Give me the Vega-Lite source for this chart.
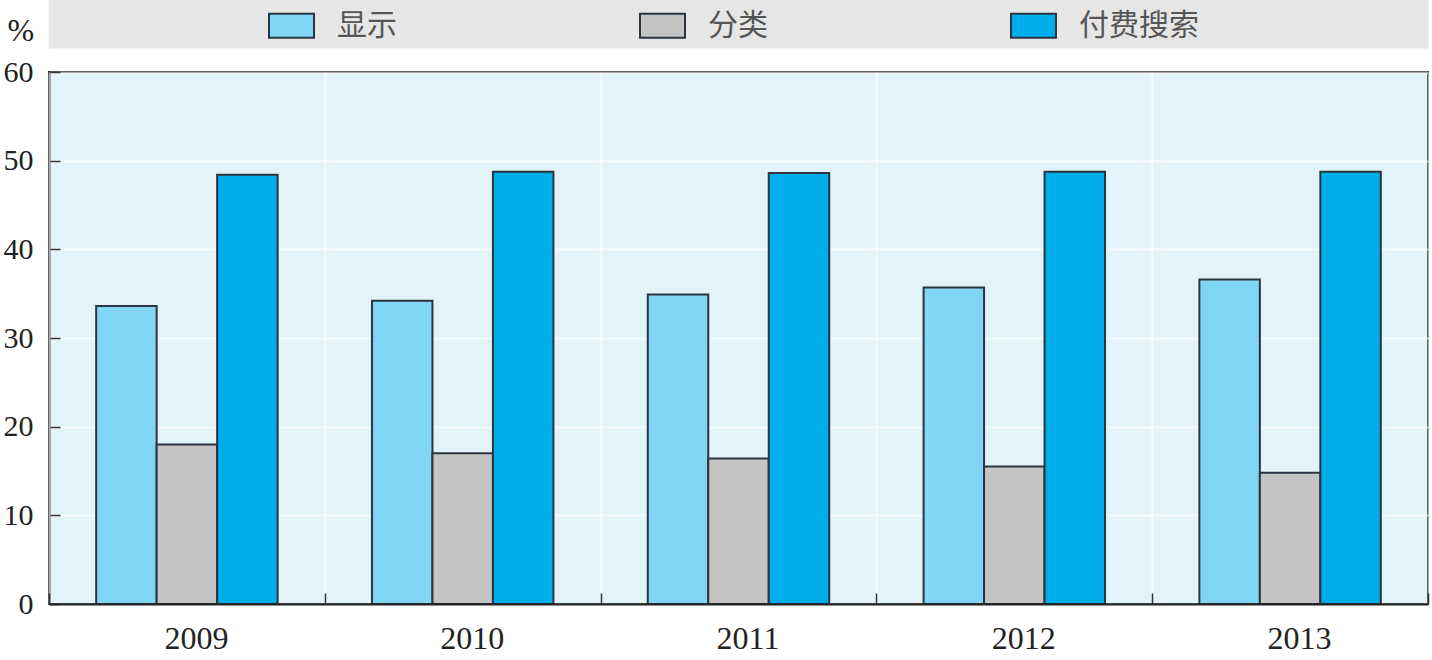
{
  "$schema": "https://vega.github.io/schema/vega-lite/v6.json",
  "width": 1379,
  "height": 532,
  "autosize": "none",
  "padding": {"left": 49, "top": 72, "right": 4, "bottom": 56},
  "background": "white",
  "config": {
    "view": {"fill": "#e2f4f9", "stroke": "#222222", "strokeWidth": 2},
    "font": "Liberation Serif"
  },
  "data": {
    "values": [
      {"year": "2009", "series": "显示", "value": 33.6},
      {"year": "2009", "series": "分类", "value": 18.0},
      {"year": "2009", "series": "付费搜索", "value": 48.4},
      {"year": "2010", "series": "显示", "value": 34.2},
      {"year": "2010", "series": "分类", "value": 17.0},
      {"year": "2010", "series": "付费搜索", "value": 48.75},
      {"year": "2011", "series": "显示", "value": 34.9},
      {"year": "2011", "series": "分类", "value": 16.4},
      {"year": "2011", "series": "付费搜索", "value": 48.6},
      {"year": "2012", "series": "显示", "value": 35.7},
      {"year": "2012", "series": "分类", "value": 15.5},
      {"year": "2012", "series": "付费搜索", "value": 48.75},
      {"year": "2013", "series": "显示", "value": 36.6},
      {"year": "2013", "series": "分类", "value": 14.8},
      {"year": "2013", "series": "付费搜索", "value": 48.75}
    ]
  },
  "layer": [
    {
      "transform": [{"filter": "datum.series === '显示'"}],
      "mark": {"type": "rect", "fill": "#e6e6e6", "stroke": "#e6e6e6", "strokeWidth": 1},
      "encoding": {
        "x": {"field": "year", "type": "nominal", "title": null, "scale": {"paddingInner": 0, "paddingOuter": 0}},
        "y": {"datum": 62.7, "type": "quantitative", "title": "%", "scale": {"domain": [0, 60], "nice": false}},
        "y2": {"datum": 68.3}
      }
    },
    {
      "mark": {"type": "bar", "stroke": "#2b3440", "strokeWidth": 2},
      "encoding": {
        "x": {
          "field": "year", "type": "nominal", "title": null,
          "scale": {"paddingInner": 0, "paddingOuter": 0},
          "axis": {
            "tickBand": "extent", "tickSize": -11, "tickColor": "#333333", "tickWidth": 1.5,
            "domainColor": "#222222", "domainWidth": 2,
            "labelFont": "Liberation Serif", "labelFontSize": 32, "labelColor": "#222222",
            "labelPadding": 45, "labelOffset": 9, "labelAngle": 0, "labelAlign": "center",
            "grid": true, "gridColor": "#ffffff", "gridOpacity": 0.6, "gridWidth": 2
          }
        },
        "xOffset": {
          "field": "series", "type": "nominal", "sort": ["显示", "分类", "付费搜索"],
          "scale": {"paddingInner": 0, "paddingOuter": 0.78}
        },
        "y": {
          "field": "value", "type": "quantitative", "title": "%",
          "scale": {"domain": [0, 60], "nice": false},
          "axis": {
            "values": [0, 10, 20, 30, 40, 50, 60],
            "tickSize": -11, "tickColor": "#333333", "tickWidth": 1.5,
            "domainColor": "#222222", "domainWidth": 2,
            "labelFont": "Liberation Serif", "labelFontSize": 30, "labelColor": "#222222", "labelPadding": 27,
            "grid": true, "gridColor": "#ffffff", "gridOpacity": 0.6, "gridWidth": 2,
            "titleAngle": 0, "titleAlign": "left", "titleBaseline": "alphabetic",
            "titleX": -42, "titleY": -32, "titleFont": "Liberation Serif", "titleFontSize": 32,
            "titleFontWeight": "normal", "titleColor": "#222222"
          }
        },
        "color": {
          "field": "series", "type": "nominal", "sort": ["显示", "分类", "付费搜索"],
          "scale": {"domain": ["显示", "分类", "付费搜索"], "range": ["#80d4f4", "#c4c4c4", "#00adeb"]},
          "legend": {
            "orient": "none", "legendX": 219, "legendY": -70, "direction": "horizontal", "title": null,
            "symbolType": "M-1,-0.5333H1V0.5333H-1Z", "symbolSize": 2025,
            "symbolStrokeColor": "#2b3440", "symbolStrokeWidth": 2, "symbolOpacity": 1,
            "labelFont": "Noto Sans CJK SC", "labelFontSize": 30, "labelColor": "#555555",
            "labelOffset": 22, "columnPadding": 239, "padding": 0
          }
        }
      }
    }
  ]
}
